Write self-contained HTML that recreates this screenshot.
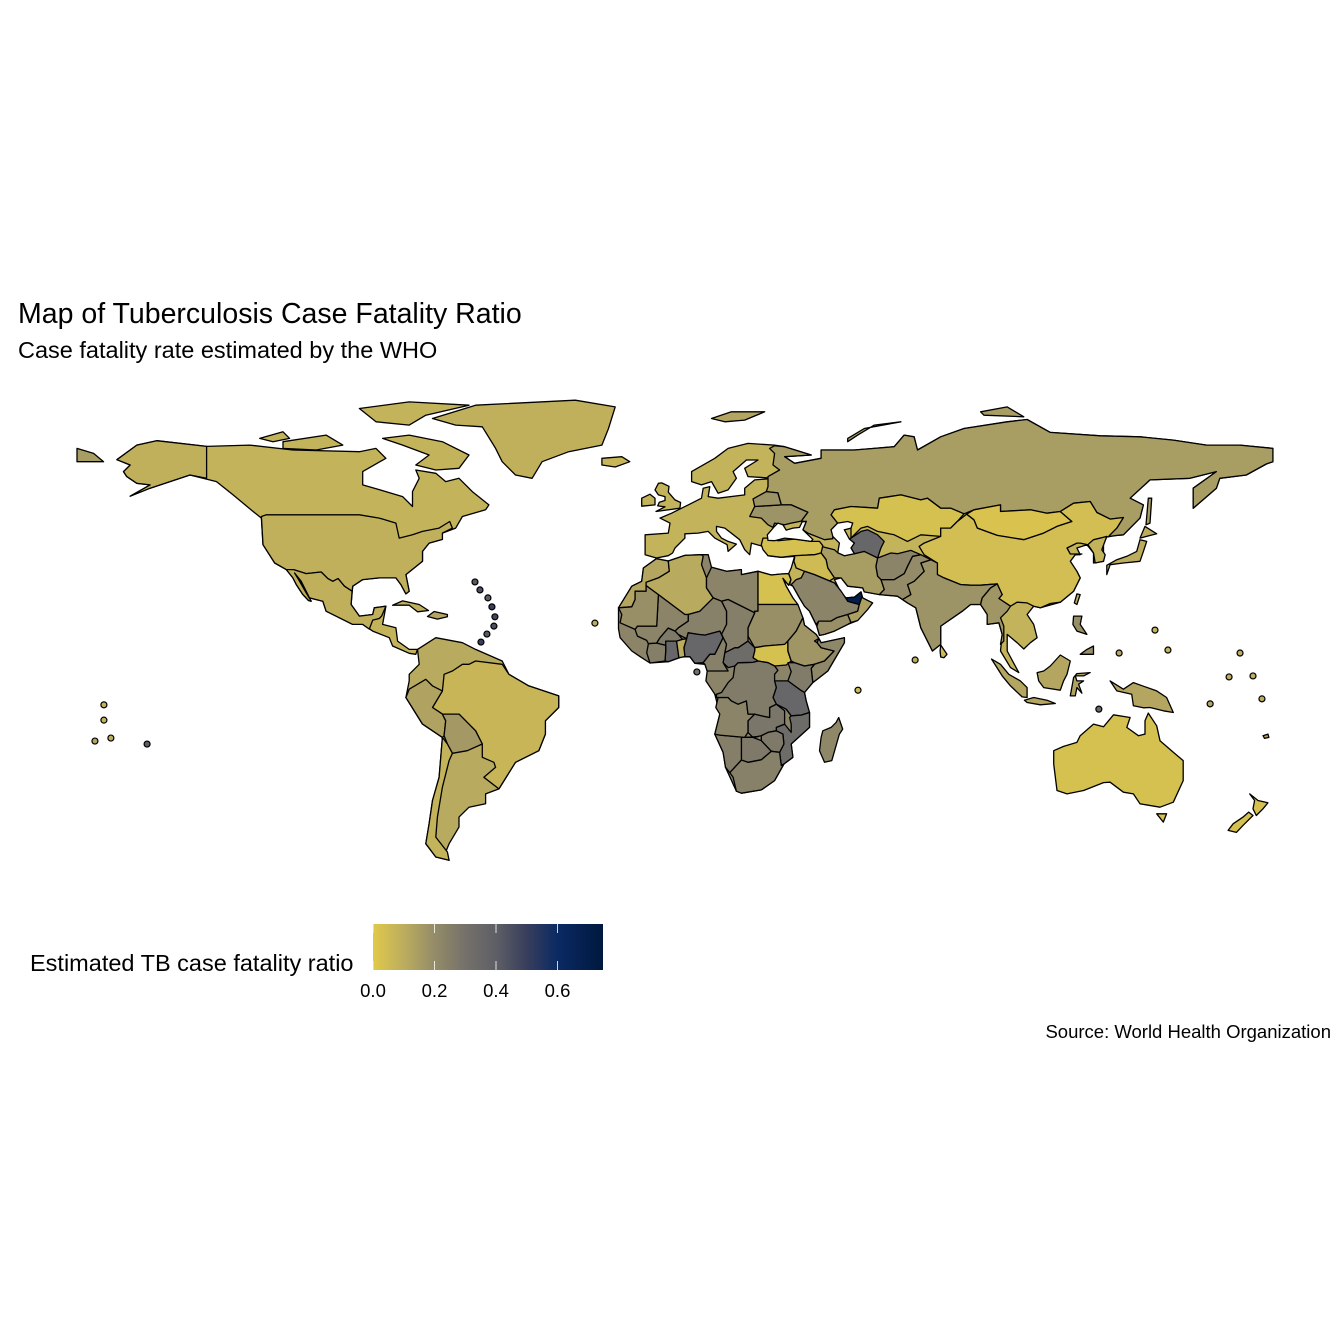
<!DOCTYPE html>
<html><head><meta charset="utf-8"><style>
html,body{margin:0;padding:0;background:#fff;}
svg{display:block;font-family:"Liberation Sans",Arial,sans-serif;}
</style></head><body>
<svg id="chart" width="1344" height="1344" viewBox="0 0 1344 1344">
<rect width="1344" height="1344" fill="#fff"/>
<text x="18" y="323" font-size="28.5" fill="#000">Map of Tuberculosis Case Fatality Ratio</text>
<text x="18" y="358" font-size="23.5" fill="#000">Case fatality rate estimated by the WHO</text>
<g id="map"></g>
<g id="dots"></g>
<text x="30" y="971" font-size="23.5" fill="#000">Estimated TB case fatality ratio</text>
<defs><linearGradient id="lg" x1="0" x2="1" y1="0" y2="0"></linearGradient></defs>
<rect x="373" y="924" width="230" height="46" fill="url(#lg)"/>
<g id="legendTicks"></g>
<text x="1331" y="1038" font-size="18.5" text-anchor="end" fill="#000">Source: World Health Organization</text>
</svg>
<script>
const legendTicks=[0,0.2,0.4,0.6];
const legendTickLabels=["0.0","0.2","0.4","0.6"];
const scaleStopsV=[0,0.1,0.2,0.3,0.4,0.5,0.6,0.75];
const scaleStopsC=["#e0c94a","#bcad5e","#948c68","#75716a","#5e5f66","#383e5c","#0b2a64","#00183f"];
const regionNames=["north-america","greenland","baffin","victoria-island","ellesmere","banks-island","south-america","eurasia","africa","alaska","usa","mexico","russia","chukotka","novaya-zemlya","severnaya-zemlya","svalbard","sakhalin","kazakhstan","mongolia","china","india","pakistan","afghanistan","iran","turkmen-uzbek","turkey","iraq-syria","saudi-arabia","yemen","oman","uae","ukraine","belarus","myanmar","korea","uk","ireland","iceland","honshu","hokkaido","taiwan","morocco","algeria","libya","egypt","sudan","south-sudan","ethiopia","somalia","kenya","tanzania","mozambique","zambia","zimbabwe","south-africa","botswana","namibia","angola","drc","car","chad","niger","nigeria","cameroon","mali","mauritania","burkina-faso","ghana","togo-benin","ivory-coast","brazil","peru","bolivia","chile","australia","tasmania","nz-north","nz-south","new-guinea","borneo","sumatra","java","sulawesi","luzon","mindanao","sri-lanka","madagascar","cuba","hispaniola","fiji"];
const regionValues=[0.08,0.09,0.08,0.08,0.08,0.08,0.11,0.08,0.23,0.09,0.09,0.09,0.15,0.15,0.15,0.15,0.12,0.15,0.03,0.02,0.04,0.18,0.2,0.23,0.15,0.36,0.03,0.05,0.23,0.19,0.14,0.7,0.18,0.18,0.17,0.08,0.08,0.08,0.07,0.1,0.1,0.1,0.12,0.11,0.23,0.03,0.19,0.03,0.17,0.22,0.26,0.36,0.33,0.28,0.27,0.24,0.27,0.25,0.23,0.26,0.33,0.25,0.24,0.36,0.24,0.23,0.19,0.27,0.36,0.1,0.25,0.07,0.13,0.16,0.08,0.03,0.03,0.03,0.03,0.12,0.12,0.12,0.12,0.13,0.19,0.19,0.05,0.22,0.09,0.12,0.12];
const regionCoords=[
[[-168,65.6],[-162,70],[-156,71.3],[-141,69.6],[-128,70],[-115,68.5],[-95,68],[-90,69],[-87,66],[-94,62],[-94,58],[-87,56],[-82,54.5],[-79,51.5],[-79,56],[-77,60],[-78,62.5],[-72,61.5],[-69,59],[-65,60],[-61,56],[-56,52],[-57,50.5],[-64,48.5],[-66,45],[-70,43.5],[-70,41.6],[-74,40.5],[-76,38],[-76,35],[-81,31],[-80,26],[-81,25.2],[-82.5,28],[-84,30],[-89,30],[-94,29.5],[-97,27.5],[-97.5,22],[-95,18.5],[-91,19],[-90.5,21],[-87,21.5],[-88,16],[-84,15],[-83.5,11],[-80,8.5],[-77.5,8.5],[-78,7],[-80,7.3],[-85,9.5],[-86,12],[-91,14],[-94,16],[-97,16],[-105,20],[-106,23],[-110,24],[-112.5,29],[-114.5,31.5],[-113,29],[-111,25.5],[-109.5,23],[-110.3,23.2],[-112,25],[-114,28],[-115,30],[-117,32.5],[-120.5,34.5],[-124,40],[-124.5,48],[-127,50],[-133,55],[-138,59],[-146,61],[-152,59],[-158,57],[-164,54.6],[-158,58],[-162,58.5],[-165,60.5],[-166,62],[-164,64]],
[[-73,78],[-60,82],[-30,83.5],[-18,81.5],[-20,75],[-22,70],[-32,68],[-40,65],[-43,60],[-48,61],[-52,65],[-54,69],[-58,75.5],[-66,76]],
[[-80,73],[-70,71],[-62,67],[-65,63],[-72,62.5],[-78,64],[-74,67],[-82,70],[-88,72]],
[[-118,71],[-105,73],[-100,70],[-108,68.5],[-118,69]],
[[-90,77],[-80,76],[-75,79],[-62,82],[-80,83],[-95,81]],
[[-125,72],[-118,74],[-116,72],[-121,71]],
[[-80,-1],[-80,1],[-77,4],[-77.5,8.5],[-72,12],[-64,10.5],[-60,8.5],[-52,5],[-50,1],[-44,-2.5],[-35,-5.5],[-35,-9],[-39,-13],[-39,-17],[-41,-22],[-48,-25.5],[-53,-33.5],[-57,-35],[-57,-38],[-62,-39],[-65,-42],[-65,-45],[-68,-50],[-69,-52.5],[-68,-55],[-72,-54],[-75,-50],[-74,-44],[-73,-37],[-71,-30],[-70,-18],[-76,-14],[-81,-6]],
[[-5.6,36],[-9,37],[-9,43],[-2,43.5],[-1.5,46.5],[-4.5,48],[-1,49.5],[2,51],[4,52],[8,54],[8.5,57],[10.5,57.5],[10,54.5],[13,54],[21,55],[21,57],[24,59.5],[30,60],[22,60.5],[21,63],[25,65.5],[21.5,65.5],[17.5,62],[18.5,60],[16,56.5],[13,55.5],[11,59],[8,58],[5,59],[5,62],[12,66],[16,69],[22,70.5],[30,70],[33,69.5],[41,67],[33,66.5],[36,64.5],[44,66],[44,68.5],[54,68.5],[60,69],[66,69.5],[69,73],[72,72.5],[73,68.5],[80,72.5],[87,75],[100,77],[106,77.7],[113,73.8],[128,72.8],[140,72.5],[150,71.5],[160,70],[170,70],[180,69],[180,65],[178,64.3],[172,61],[164,60],[163,57],[156,51],[156,57],[163,62],[155,60],[143,59.5],[137,54],[141,52],[140,48],[135,43],[130,42.5],[129,40],[129,35],[126,34.5],[126,37.5],[124,40],[121,39],[122,37],[119,37],[118,39],[121,40.5],[117,38.5],[119,35],[121,32],[122,30],[120,26],[116,22.7],[110,21],[108,21.5],[106,19],[108,16],[109,12],[107,10.5],[105,8.6],[103,10.5],[100,13],[100,8],[103.5,1.5],[101,3],[98,8],[98.5,13],[97.5,16.5],[94,16],[94,19],[92,22],[89,22],[86.5,20],[80,15.5],[80,10],[77.5,8],[74,15],[72.5,21],[70,22.5],[67,24.5],[62,25],[57,25.8],[56.5,27],[52,27.5],[50,30],[48,29.5],[49.5,26.5],[51,24.5],[51.5,24],[54,24.2],[56,25.8],[56.5,24],[59.5,22.5],[58,20.5],[55,17.2],[52,16],[48,14],[45,13],[43.5,12.7],[42.7,15.5],[40.5,20],[39,21.5],[37.5,24],[35.5,27.5],[34.5,28],[34.9,29.5],[34.2,31.3],[35,33],[36,36.5],[32,36.2],[28,36.7],[26.5,39.5],[23,40.5],[22.5,37],[21,38.5],[19.5,41.5],[15,45],[12.5,45.5],[12.5,44],[14,42],[16,41],[18.5,40.2],[16,38],[15.7,40],[12,42],[10,44],[7,43.5],[3,43.3],[3,42],[0,39],[-0.7,37.5],[-2,36.7]],
[[-5.6,35.8],[-9.5,33],[-10,29],[-13,27.5],[-17,21],[-17,14.7],[-16.5,12],[-13,8],[-10,6],[-7.5,4.4],[-2,4.8],[2,6.2],[4.5,6.3],[6,4.3],[9,4],[9.7,2],[9.3,-1],[12,-5],[13.5,-11],[12,-17],[14.5,-22.5],[15.2,-27],[18.5,-34.2],[20,-34.8],[26,-33.8],[30,-31],[32.8,-26],[35.5,-24],[35,-20],[40.5,-15],[40.5,-10.5],[39.5,-7],[39,-4.5],[41.5,-1.5],[46,2],[51,10.5],[51,12],[44,10.5],[43.3,11.8],[42.5,13],[39,15.8],[38.5,18],[37,21],[35.5,24],[33.5,27.5],[32.5,29.9],[34.2,27.8],[34.9,29.5],[34.2,31.3],[32,31.2],[29,30.9],[25,32],[20,31],[20,32.5],[15.5,32],[11,33.2],[10,37],[8,37],[3,36.8],[-2,35.1]],
[[-141,60],[-141,69.6],[-156,71.3],[-162,70],[-168,65.6],[-164,64],[-166,62],[-165,60.5],[-162,58.5],[-158,58],[-164,54.6],[-158,57],[-152,59],[-146,61]],
[[-124.5,48.5],[-123,49],[-95,49],[-89,48],[-84,46.5],[-83,42],[-79,43],[-76,44],[-71,45],[-67.8,47],[-67,45],[-70,43.5],[-70,41.6],[-74,40.5],[-76,38],[-76,35],[-81,31],[-80,26],[-81,25.2],[-82.5,28],[-84,30],[-89,30],[-94,29.5],[-97,27.5],[-97.2,26],[-99.5,27.5],[-101.4,29.8],[-103,29],[-104.5,29.8],[-106.5,31.8],[-111,31.3],[-114.8,32.5],[-117,32.5],[-120.5,34.5],[-124,40]],
[[-117,32.5],[-114.8,32.5],[-111,31.3],[-106.5,31.8],[-104.5,29.8],[-103,29],[-101.4,29.8],[-99.5,27.5],[-97.2,26],[-97.5,22],[-95,18.5],[-91,19],[-90.5,21],[-87,21.5],[-88.3,18.5],[-89,17.8],[-91,17.3],[-92,14.6],[-94,16],[-97,16],[-105,20],[-106,23],[-110,24],[-112.5,29],[-114.5,31.5],[-113,29],[-111,25.5],[-109.5,23],[-110.3,23.2],[-112,25],[-114,28],[-115,30]],
[[30,69.8],[28.5,69],[30,67.5],[29.5,64],[31.5,62.5],[28,60.5],[28,57.5],[27.5,56],[31,55.6],[32,52],[35,52],[40,49.8],[38,47.1],[39.5,47],[38.5,44.5],[40,43.5],[45,41.5],[47.5,41.8],[47.5,43],[47,44.5],[49,46.5],[47,49],[48,50.5],[53,51.5],[61,51],[61.5,54],[68,55],[74,53.5],[76,54],[80,51],[83,51],[87,49.3],[90,50.5],[98,52],[98,50],[107,50.5],[112,49.5],[116,50],[120,52.5],[125,53],[127,49.7],[131,47.7],[135,48.2],[133,45],[131,43],[130.5,42.4],[133,42.8],[135,43],[140,48],[141,52],[137,54],[143,59.5],[155,60],[163,62],[156,57],[156,51],[163,57],[164,60],[172,61],[178,64.3],[180,65],[180,69],[170,70],[160,70],[150,71.5],[140,72.5],[128,72.8],[113,73.8],[106,77.7],[100,77],[87,75],[80,72.5],[73,68.5],[72,72.5],[69,73],[66,69.5],[60,69],[54,68.5],[44,68.5],[44,66],[36,64.5],[33,66.5],[41,67],[33,69.5]],
[[-180,69],[-175,67.5],[-172,65],[-180,65]],
[[52,71],[55,73],[60,76],[68,77],[57,75],[52,72]],
[[93,79],[105,78.5],[100,81.5],[92,80]],
[[11,78],[17,80],[27,80],[21,77.5],[15,77]],
[[141.8,46],[143,46.5],[143.5,54],[142.5,54]],
[[47,49],[48,50.5],[53,51.5],[61,51],[61.5,54],[68,55],[74,53.5],[76,54],[80,51],[83,51],[87,49.3],[85,47],[83,45],[80,45],[80,42.5],[74,43],[70,41],[66,43],[61,44],[58,45.5],[56,45],[53,42],[53,45],[51,44.5],[53,46.5],[49,46.5]],
[[87.8,49.2],[90,50.5],[98,52],[98,50],[107,50.5],[112,49.5],[116,50],[119.5,47],[115,45.5],[111,43.5],[105,41.5],[97,42.8],[91,45],[90,47.5]],
[[73.5,39.5],[75,37],[79,34.5],[79,31],[81,30],[86,28],[89,27.8],[92,27.8],[97,28.2],[98.5,25],[97.5,23.8],[101,21.5],[103,22.7],[106,22.5],[108,21.5],[110,21],[113,22.3],[116,22.7],[120,26],[122,30],[121,32],[119,35],[120.5,37],[122.5,37.2],[119,37.2],[118,39],[121,40.5],[122,40.5],[124.3,40],[126,41.5],[128,42],[130.5,42.4],[131,43],[133,45],[135,48.2],[131,47.7],[127,49.7],[125,53],[120,52.5],[116,50],[119.5,47],[115,45.5],[111,43.5],[105,41.5],[97,42.8],[91,45],[90,47.5],[87.8,49.2],[85,47],[83,45],[80,45],[80,42.5],[75,40.5]],
[[68.5,23.5],[70,22.5],[72.5,21],[74,15],[77.5,8],[80,10],[80,15.5],[86.5,20],[89,22],[92,22],[92.5,24],[95,27],[97,28.2],[92,27.8],[89,27.8],[86,28],[81,30],[79,31],[79,34.5],[77,35.5],[74,34.5],[75,32],[72,29],[70,28],[71,25]],
[[61.5,25],[67,24.5],[68.5,23.5],[71,25],[70,28],[72,29],[75,32],[74,34.5],[77,35.5],[74,37],[71.5,36.5],[70,33.5],[69,31.3],[66,29.5],[62,29.5],[63,26.5]],
[[61,30.5],[62,29.5],[66,29.5],[69,31.3],[70,33.5],[71.5,36.5],[74,37],[71,38.3],[67,37.3],[65,37.5],[61,36],[60.5,33.5]],
[[44,39.5],[48,38.5],[49,37.6],[51,36.7],[54,37.3],[57,38],[61,36.5],[61,36],[60.5,33.5],[61,30.5],[62,29.5],[63,26.5],[61.5,25],[57,25.8],[56.5,27],[52,27.5],[50,30],[48,30],[46,33],[45.5,35.5],[44,37.5]],
[[53,42],[56,44],[58,44.5],[61,43],[63,41],[62,39],[61,36],[57,38],[54,37.3],[53,39],[54,40.5],[52.5,41.7]],
[[26,40],[26.5,42],[28,42],[31,41.2],[36,41.7],[41,41],[43.5,41],[44.5,39.7],[44,37.5],[42,37],[38,36.8],[36,36],[36,36.7],[32,36.2],[28,36.7],[26.5,38.5]],
[[36,36.7],[36,36],[35.8,35],[36.5,33],[39,32],[42,31],[46.5,29.1],[48,30],[46,33],[45.5,35.5],[44,37.5],[42,37],[38,36.8]],
[[35,28],[36.5,29.5],[38,30],[39,32],[42,31],[46.5,29.1],[48,28.5],[50,26],[51,24.5],[52,23],[55.5,22],[55,20],[52,19],[48.7,18],[47,17],[43.3,17],[42.5,16],[40.5,20],[39,21.5],[37.5,24],[35.5,27.5]],
[[43.3,17],[47,17],[48.7,18],[52,19],[53,16.6],[52,16],[48,14],[45,13],[43.5,12.7],[42.7,15.5]],
[[52,19],[55,20],[55.5,22],[56.3,24.5],[56.5,24],[59.5,22.5],[58,20.5],[55,17.2],[53,16.6]],
[[51.5,24],[54,24.2],[56,25.8],[56.3,24.5],[55.5,22],[52,23]],
[[22.5,48.5],[24,51.5],[32,52],[35,52],[40,49.8],[38,47.1],[35,46.5],[33,46],[30,46.5],[29.5,45.2],[28,46],[26,48]],
[[24,51.5],[23.5,53.8],[27.5,56],[31,55.6],[32,52]],
[[92.5,24],[92,22],[94,19],[94,16],[97.5,16.5],[98.5,13],[98,10],[99,11],[99,15.5],[98,18],[100,20],[101,21.5],[97.5,23.8],[98.5,25],[97,28.2],[95,27]],
[[126,37.5],[126.5,34.5],[129,35],[129.5,37],[128.5,38.5],[130,42.5],[128,42],[126,41.5],[124.3,40],[125,39]],
[[-5.7,50],[1.5,51],[1.7,52.7],[0,53.5],[-2,55.8],[-1.8,57.6],[-4,58.6],[-5,58.5],[-6,56.5],[-5,55],[-3,54.5],[-3,53.3],[-4.7,52.8],[-5.2,51.7],[-3,51.4]],
[[-6,52],[-6,54],[-7.5,55.2],[-10,54],[-10,51.6]],
[[-22,64],[-22,66],[-16,66.5],[-13.6,65],[-18,63.4]],
[[130,31],[131,34],[135,34.5],[140,35],[141,38],[142,41],[140,41.5],[139,38],[136,36.5],[133,35.5],[130,33.8]],
[[140,42],[145,43.3],[141.5,45.5]],
[[120.2,22.5],[121,25.2],[122,25],[121,22]],
[[-5.6,35.8],[-2,35.1],[-1.7,32],[-5,30],[-8.7,28.7],[-8.7,26],[-12,26],[-12,23.5],[-13,21.3],[-17,21],[-13,27.5],[-10,29],[-9.5,33]],
[[-1.7,32],[-2,35.1],[3,36.8],[8,37],[8.5,36.5],[8,34],[9.5,30],[9.5,27],[11.5,24],[7.5,20],[4,19],[3,19],[-5,25],[-8.7,27.7],[-8.7,28.7],[-5,30]],
[[9.5,30],[11,33.2],[15.5,32],[20,32.5],[20,31],[25,32],[25,20],[24,20],[24,19.5],[16,23.5],[14,23],[11.5,24],[9.5,27]],
[[25,32],[29,30.9],[32,31.2],[34.2,31.3],[34.9,29.5],[34.2,27.8],[32.5,29.9],[33.5,27.5],[35.5,24],[37,22],[25,22]],
[[25,22],[37,22],[38.5,18],[36.5,14],[34,11],[33,10],[27,9.5],[24,9],[22,12.5],[22,15],[24,19.5],[24,20],[25,20]],
[[24,9],[27,9.5],[33,10],[34,11],[34,8],[35,5],[33.5,3.8],[30,3.5],[28,4.5],[25,5],[23.5,6],[24,8]],
[[36.5,14],[38.5,18],[39,15.8],[42.5,13],[43.3,11.8],[42,11],[42.8,10.5],[44,9],[47.9,8],[45,5],[42,4],[39,3.5],[36,4.5],[35,5],[34,8],[34,11]],
[[42.8,10.5],[43.3,11.8],[44,10.5],[51,12],[51,10.5],[46,2],[41.5,-1.5],[41,2.8],[42,4],[45,5],[47.9,8],[44,9]],
[[34,4.5],[36,4.5],[39,3.5],[42,4],[41,2.8],[41.5,-1.5],[39,-4.5],[37.7,-3.7],[34,-1],[35,1.8]],
[[30,-1],[34,-1],[37.7,-3.7],[39,-4.5],[39.5,-7],[40.5,-10.5],[38,-11.3],[35,-11.5],[33.5,-9.5],[30.5,-8],[29.5,-6],[30.5,-3]],
[[35,-11.5],[38,-11.3],[40.5,-10.5],[40.5,-15],[35,-20],[35.5,-24],[32.8,-26],[32,-26.5],[31.5,-22.5],[32.8,-20],[32.5,-17],[30.5,-16],[30.5,-15],[33,-14],[35,-16.5],[35,-14],[34.5,-12]],
[[22,-13],[22,-16.5],[23.5,-18],[26,-17.5],[28,-16.5],[30.5,-16],[30.5,-15],[33,-14],[33,-10],[30.5,-8],[28.5,-9],[28.5,-12],[26,-11.5],[24,-11]],
[[26,-17.5],[28,-16.5],[30.5,-16],[32.5,-17],[32.8,-20],[31.5,-22.5],[29,-22.2],[26,-19]],
[[16.5,-28.6],[20,-24.8],[20,-22],[22,-25.5],[26,-24.7],[29,-22.2],[31.5,-22.5],[32,-26.5],[32.8,-26],[30,-31],[26,-33.8],[20,-34.8],[18.5,-34.2],[17.5,-30]],
[[20,-22],[20,-18],[23.5,-18],[26,-19],[29,-22.2],[26,-24.7],[22,-25.5],[20,-24.8]],
[[12,-17],[14.5,-22.5],[15.2,-27],[16.5,-28.6],[20,-24.8],[20,-22],[20,-18],[23.5,-18],[25,-17.8],[21,-18],[13.5,-17.3]],
[[12,-5],[13,-6],[12.3,-9],[13.5,-11],[12,-17],[13.5,-17.3],[21,-18],[22,-16.5],[22,-13],[24,-11],[22,-11],[21.5,-7],[19,-8],[17,-7],[16,-6],[12.5,-6]],
[[12.5,-6],[16,-6],[17,-7],[19,-8],[21.5,-7],[22,-11],[24,-11],[26,-11.5],[28.5,-12],[28.5,-9],[30.5,-8],[29.5,-6],[30.5,-3],[30,-1],[30,1],[31,2.2],[30,3.5],[28,4.5],[25,5],[23.5,4.6],[19,4.5],[18,3.5],[17.5,0],[16,-1.5],[14,-4.5],[12.5,-5]],
[[14.5,4.5],[15,7.5],[18,9],[19,9],[22,11],[24,9],[24,8],[23.5,6],[25,5],[23.5,4.6],[19,4.5],[18,3.5],[16,3],[15,4]],
[[14,23],[16,23.5],[24,19.5],[22,15],[22,12.5],[22,11],[19,9],[18,9],[15,7.5],[15.5,10],[14,13],[13.5,14],[15.5,16],[15.5,20]],
[[0,14],[1,13],[3.5,11.7],[4,13.5],[7,13],[9,12.8],[13.5,14],[14,13],[15.5,16],[15.5,20],[14,23],[11.5,24],[7.5,20],[4,19],[4,17],[1,15]],
[[3,6.3],[2.7,9],[3.5,11.7],[4,13.5],[7,13],[9,12.8],[13.5,14],[14,13],[14.5,12],[13.5,10],[12,7],[10.5,7],[8.5,4.5],[6,4.3],[4.5,6.3]],
[[8.5,4.5],[10.5,7],[12,7],[13.5,10],[14.5,12],[14,13],[15.5,10],[15,7.5],[14.5,4.5],[16,2],[9.7,2],[9,4]],
[[-12,14.5],[-11.3,15.5],[-5.5,15.5],[-5,25],[3,19],[4,19],[4,17],[1,15],[0,14],[-2,14.9],[-4.5,12],[-5.5,10.4],[-8,10.2],[-8.5,11.2],[-11.3,12.5]],
[[-17,21],[-13,21.3],[-12,23.5],[-12,26],[-8.7,26],[-8.7,27.7],[-5,25],[-5.5,15.5],[-11.3,15.5],[-12,14.5],[-16.5,16.5],[-16,19]],
[[-5.5,10.4],[-4.5,12],[-2,14.9],[0,14],[1,13],[2.3,11.5],[0.5,11],[-2.8,9.7]],
[[-3,5],[-2,4.8],[1.2,6],[0.5,11],[-2.8,11],[-2.8,8]],
[[1.2,6],[2.7,6.3],[3,6.3],[2.7,9],[3.5,11.7],[2.3,11.5],[0.5,11]],
[[-7.5,4.4],[-3,5],[-2.8,8],[-2.8,9.7],[-5.5,10.4],[-8,10.2],[-8.5,7.5]],
[[-60,5],[-52,4],[-50,1],[-44,-2.5],[-35,-5.5],[-35,-9],[-39,-13],[-39,-17],[-41,-22],[-48,-25.5],[-53,-33.5],[-57.5,-30],[-54,-27],[-54.5,-25.5],[-58,-24],[-58,-20],[-60,-16],[-65,-11],[-70,-11],[-73,-9],[-70,-4],[-69.5,1],[-67,2],[-64,4],[-62,4]],
[[-81,-6],[-80,-3.5],[-75,-0.5],[-73,-2.5],[-70,-4],[-73,-9],[-70,-11],[-69,-13],[-69.5,-17.5],[-70,-18],[-76,-14]],
[[-69.5,-17.5],[-69,-13],[-70,-11],[-65,-11],[-60,-16],[-58,-20],[-62.5,-22],[-67,-22.8],[-68.5,-20]],
[[-70,-18],[-68.5,-20],[-67,-22.8],[-68,-25],[-70,-33],[-71.5,-42],[-72,-48],[-68.5,-52.5],[-68,-55],[-72,-54],[-75,-50],[-74,-44],[-73,-37],[-71,-30]],
[[114,-22],[114,-26],[115,-34],[118,-35],[123,-34],[129,-31.6],[131,-31.5],[135,-34.5],[138,-35],[140,-38],[146,-39],[150,-37.5],[153,-31],[153,-25],[150,-22.5],[146,-19],[145,-14.5],[142.5,-10.7],[141.5,-13],[141.5,-17],[139.5,-17.5],[136,-15],[137,-12],[132,-11.2],[129,-14.8],[126,-14],[122,-17.5],[121,-19.5],[117,-20.7]],
[[145,-41],[148,-41],[147,-43.5]],
[[173,-35],[175.5,-37],[178.5,-37.7],[177,-39.5],[175,-41.5],[174,-39.5],[174.5,-37]],
[[172.7,-40.5],[174,-41.5],[171,-44.5],[169,-46.6],[166.5,-46],[168,-44],[171,-42]],
[[131,-1],[135,-3.5],[138,-1.5],[141,-2.6],[145,-4],[148,-6],[150,-10.5],[147,-10],[143,-9],[141,-9.1],[138,-8.5],[137.5,-5],[133,-4]],
[[109,1.5],[111,2],[113,3.5],[116,6.8],[119,5],[118,1],[117,-1],[116,-3.8],[111,-3],[109.5,-1]],
[[95.3,5.6],[98,4],[100.5,1],[104,-1],[106,-3],[106,-6],[104.5,-5.8],[101,-2.5],[98.5,0.5]],
[[105.2,-6.8],[108,-6],[112,-6.8],[114.5,-7.8],[110,-8.2],[106,-7.5]],
[[119,-5.5],[120,0],[121,1.2],[125,1.5],[123,0.5],[120.5,0.5],[121,-1],[123,-1],[121.5,-2],[122.5,-4.7],[121,-3],[120.5,-5.5]],
[[120,18.5],[122.5,18.5],[122,16],[124,13],[121,14],[119.8,16]],
[[122,7],[126,7],[126,9.5],[124,8.5]],
[[80,9.8],[81.9,7],[81,6],[80,6.2],[79.8,8]],
[[49.3,-12],[50.5,-15.5],[49.5,-17],[47.2,-25],[45,-25.5],[43.5,-22],[44,-18],[44.5,-16],[47,-15],[48.5,-13.5]],
[[-85,21.8],[-82,23.1],[-77,22],[-74.2,20.2],[-77.5,19.8],[-80,21.8],[-84,21.8]],
[[-74.5,18.4],[-72.5,19.9],[-68.5,19],[-68.5,18.3],[-71.5,17.6]],
[[177,-17.5],[178.5,-17],[178.8,-18],[177.5,-18.3]]
];
const dotLon=[-60.2,-58.7,-56.3,-55.1,-54.2,-54.5,-56.6,-58.4,-24.1,6.6,55.1,72.3,144.5,148.4,133.7,170.1,174.0,166.8,176.7,161.1,127.6,-171.9,-171.9,-174.6,-169.8,-158.9];
const dotLat=[28.8,26.4,24.0,21.3,18.3,15.5,13.1,10.7,16.4,1.7,-3.8,5.3,14.3,8.3,7.4,7.4,0.5,0.2,-6.4,-7.9,-9.5,-8.2,-12.8,-19.1,-18.2,-20.0];
const dotValues=[0.42,0.45,0.4,0.5,0.48,0.45,0.42,0.5,0.1,0.3,0.05,0.1,0.08,0.08,0.12,0.1,0.1,0.1,0.1,0.12,0.35,0.08,0.08,0.12,0.1,0.4];

const NS='http://www.w3.org/2000/svg';
const K=3.322;
function px(lon){return 77+(lon+180)*K;}
function py(lat){return 677.6-lat*K;}
function hex2rgb(h){return [1,3,5].map(i=>parseInt(h.substr(i,2),16));}
function color(v){
  if(v<=scaleStopsV[0])return scaleStopsC[0];
  for(let i=1;i<scaleStopsV.length;i++){
    if(v<=scaleStopsV[i]){
      const t=(v-scaleStopsV[i-1])/(scaleStopsV[i]-scaleStopsV[i-1]);
      const a=hex2rgb(scaleStopsC[i-1]),b=hex2rgb(scaleStopsC[i]);
      return 'rgb('+a.map((x,j)=>Math.round(x+(b[j]-x)*t)).join(',')+')';
    }
  }
  return scaleStopsC[scaleStopsC.length-1];
}
const map=document.getElementById('map');
regionCoords.forEach((c,i)=>{
  const p=document.createElementNS(NS,'polygon');
  p.setAttribute('points',c.map(q=>px(q[0]).toFixed(1)+','+py(q[1]).toFixed(1)).join(' '));
  p.setAttribute('fill',color(regionValues[i]));
  p.setAttribute('stroke','#000');
  p.setAttribute('stroke-width','1.3');
  p.setAttribute('stroke-linejoin','round');
  
  
  map.appendChild(p);
});
const water=[[[28,41.3],[27.8,43],[29.7,45.2],[31,46.5],[32.5,46],[33.5,44.4],[35.5,45],[37.5,45.2],[38.3,46.9],[39.5,47],[38.5,44.5],[41.5,41.6],[41,41],[36,41.7],[33,42],[30,41.2]],[[47,44.5],[49,46.5],[52,47],[53.5,46.5],[53,45],[51,44.5],[52.5,41.7],[54,40.5],[53,39],[54,37.3],[51,36.7],[49,37.6],[49.5,40.5],[47.5,42.5]]];
const waterNames=['black-sea','caspian-sea'];
water.forEach((c,i)=>{
  const p=document.createElementNS(NS,'polygon');
  p.setAttribute('points',c.map(q=>px(q[0]).toFixed(1)+','+py(q[1]).toFixed(1)).join(' '));
  p.setAttribute('fill','#fff');p.setAttribute('stroke','#000');p.setAttribute('stroke-width','1.3');
  
  
  map.appendChild(p);
});
const dots=document.getElementById('dots');
dotLon.forEach((lon,i)=>{
  const c=document.createElementNS(NS,'circle');
  c.setAttribute('cx',px(lon));c.setAttribute('cy',py(dotLat[i]));c.setAttribute('r','3');
  c.setAttribute('fill',color(dotValues[i]));c.setAttribute('stroke','#000');c.setAttribute('stroke-width','1.2');
  
  
  dots.appendChild(c);
});
const lg=document.getElementById('lg');
const vmax=230/307.5;
scaleStopsV.forEach((v,i)=>{
  const s=document.createElementNS(NS,'stop');
  s.setAttribute('offset',Math.min(1,v/vmax));s.setAttribute('stop-color',scaleStopsC[i]);
  lg.appendChild(s);
});
const lt=document.getElementById('legendTicks');
legendTicks.forEach((v,i)=>{
  const x=373+v*307.5;
  [[924,933],[961,970]].forEach(([a,b])=>{
    const l=document.createElementNS(NS,'line');
    l.setAttribute('x1',x);l.setAttribute('x2',x);l.setAttribute('y1',a);l.setAttribute('y2',b);
    l.setAttribute('stroke','#fff');l.setAttribute('stroke-width','1');l.setAttribute('opacity','0.8');
    
    
    lt.appendChild(l);
  });
  const t=document.createElementNS(NS,'text');
  t.setAttribute('x',x);t.setAttribute('y',997);t.setAttribute('font-size','18.5');t.setAttribute('text-anchor','middle');
  t.textContent=legendTickLabels[i];
  
  
  lt.appendChild(t);
});
</script>
</body></html>
